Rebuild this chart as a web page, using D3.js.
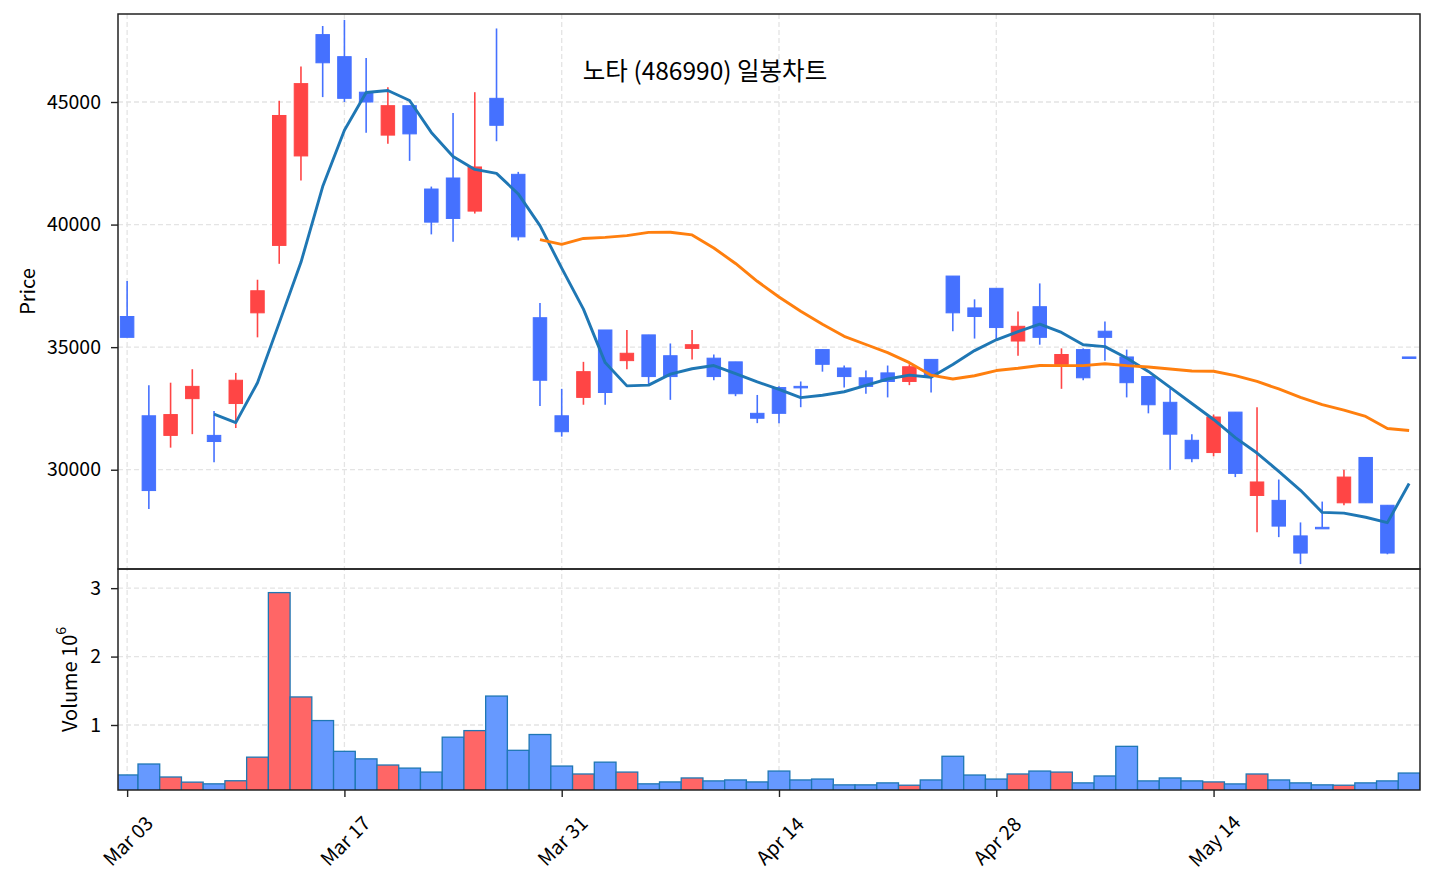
<!DOCTYPE html>
<html>
<head>
<meta charset="utf-8">
<script src="https://cdn.jsdelivr.net/npm/d3@7"></script>
<style>
  body { margin: 0; background: #fff; }
  text { font-family: "Noto Sans CJK KR", "Noto Sans", sans-serif; fill: #000; }
</style>
</head>
<body>
<div id="chart"></div>
<script>
// 일봉 데이터
const dates = [
  "2026-03-03","2026-03-04","2026-03-05","2026-03-06","2026-03-09","2026-03-10","2026-03-11","2026-03-12","2026-03-13","2026-03-16",
  "2026-03-17","2026-03-18","2026-03-19","2026-03-20","2026-03-23","2026-03-24","2026-03-25","2026-03-26","2026-03-27","2026-03-30",
  "2026-03-31","2026-04-01","2026-04-02","2026-04-03","2026-04-06","2026-04-07","2026-04-08","2026-04-09","2026-04-10","2026-04-13",
  "2026-04-14","2026-04-15","2026-04-16","2026-04-17","2026-04-20","2026-04-21","2026-04-22","2026-04-23","2026-04-24","2026-04-27",
  "2026-04-28","2026-04-29","2026-04-30","2026-05-04","2026-05-06","2026-05-07","2026-05-08","2026-05-11","2026-05-12","2026-05-13",
  "2026-05-14","2026-05-15","2026-05-18","2026-05-19","2026-05-20","2026-05-21","2026-05-22","2026-05-26","2026-05-27","2026-05-28"
];
const opens = [
  36250, 32200, 31400, 32900, 31400, 32700, 36400, 39150, 42800, 47750,
  46850, 45400, 43650, 44850, 41450, 41900, 40550, 45150, 42050, 36200,
  32200, 32950, 35700, 34450, 35500, 34650, 34950, 34550, 34400, 32300,
  33350, 33400, 34900, 34150, 33750, 33950, 33600, 34500, 37900, 36600,
  37400, 35250, 36650, 34300, 34900, 35650, 34600, 33800, 32750, 31200,
  30700, 32350, 28950, 28750, 27300, 27650, 28650, 30500, 28550, 34600
];
const highs = [
  37700, 33450, 33550, 34100, 32400, 33950, 37750, 45050, 46450, 48100,
  48350, 46800, 45600, 44850, 41550, 44550, 45400, 48000, 42150, 36800,
  33300, 34400, 35700, 35700, 35500, 35150, 35700, 34700, 34400, 33050,
  33400, 33600, 34900, 34250, 34050, 34250, 34300, 34500, 37900, 36950,
  37400, 36450, 37600, 34950, 34950, 36050, 34900, 33800, 33300, 31450,
  32250, 32350, 32550, 29600, 27850, 28700, 30000, 30500, 28550, 34600
];
const lows = [
  35400, 28400, 30900, 31450, 30300, 31700, 35400, 38400, 41800, 45200,
  45000, 43750, 43300, 42600, 39600, 39300, 40450, 43400, 39350, 32600,
  31350, 32650, 32650, 34100, 33500, 32850, 34500, 33650, 33000, 31900,
  31900, 32550, 34000, 33350, 33100, 32950, 33450, 33150, 35650, 35350,
  35250, 34650, 35100, 33300, 33650, 34450, 32950, 32300, 30000, 30300,
  30550, 29700, 27450, 27250, 26150, 27650, 28550, 28650, 26550, 34600
];
const closes = [
  35400, 29150, 32250, 33400, 31150, 33650, 37300, 44450, 45750, 46600,
  45150, 45000, 44850, 43700, 40100, 40250, 42350, 44050, 39500, 33650,
  31550, 34000, 33150, 34750, 33800, 33800, 35100, 33800, 33100, 32100,
  32300, 33400, 34300, 33800, 33400, 33600, 34200, 33850, 36400, 36250,
  35800, 35850, 35400, 34700, 33750, 35400, 33550, 32650, 31450, 30450,
  32150, 29850, 29500, 27700, 26600, 27650, 29700, 28650, 26600, 34600
];
const volumes = [
  270000, 430000, 240000, 165000, 140000, 185000, 530000, 2935000, 1410000, 1065000,
  615000, 505000, 415000, 370000, 312000, 822000, 918000, 1423000, 630000, 861000,
  400000, 284000, 457000, 312000, 140000, 168000, 226000, 183000, 197000, 168000,
  327000, 197000, 210000, 125000, 125000, 154000, 120000, 197000, 543000, 269000,
  210000, 284000, 327000, 312000, 154000, 255000, 688000, 183000, 226000, 183000,
  168000, 139000, 284000, 197000, 154000, 125000, 120000, 154000, 183000, 298000
];
const priceTicks = [30000, 35000, 40000, 45000];
const volumeTicks = [1e6, 2e6, 3e6];
const maWindows = [5, 20];
const maColors = ["#1f77b4", "#ff7f0e"];
const title = "노타 (486990) 일봉차트";

const parseDate = d3.timeParse("%Y-%m-%d");
const fmtDate = d3.timeFormat("%b %d");
const tickIdx = d3.range(0, dates.length, 10);

const upColor = "#ff4545", downColor = "#4571ff";
const upVol = "#ff6666", downVol = "#6699ff";

const width = 1434, height = 884;
const left = 118, right = 1420;
const pTop = 14, pBottom = 569, vTop = 569, vBottom = 790;

const svg = d3.select("#chart").append("svg")
  .attr("width", width)
  .attr("height", height);

const x = d3.scaleLinear().domain([-0.42, 59.5]).range([left, right]);
const y = d3.scaleLinear().domain([25950, 48590]).range([pBottom, pTop]);
const yv = d3.scaleLinear().domain([0.05e6, 3.28e6]).range([vBottom, vTop]);

const step = x(1) - x(0);

// clip paths
const defs = svg.append("defs");
defs.append("clipPath").attr("id", "clipP").append("rect")
  .attr("x", left).attr("y", pTop).attr("width", right - left).attr("height", pBottom - pTop);
defs.append("clipPath").attr("id", "clipV").append("rect")
  .attr("x", left).attr("y", vTop).attr("width", right - left).attr("height", vBottom - vTop);

// grid
const grid = svg.append("g")
  .attr("stroke", "#e4e4e4")
  .attr("stroke-width", 1.3)
  .attr("stroke-dasharray", "5,3");
grid.selectAll(".vx").data(tickIdx).enter().append("line")
  .attr("x1", d => x(d)).attr("x2", d => x(d))
  .attr("y1", pTop).attr("y2", vBottom);
grid.selectAll(".hp").data(priceTicks).enter().append("line")
  .attr("x1", left).attr("x2", right)
  .attr("y1", d => y(d)).attr("y2", d => y(d));
grid.selectAll(".hv").data(volumeTicks).enter().append("line")
  .attr("x1", left).attr("x2", right)
  .attr("y1", d => yv(d)).attr("y2", d => yv(d));

const isUp = i => closes[i] > opens[i];

// volume bars
svg.append("g").attr("clip-path", "url(#clipV)")
  .selectAll("rect").data(volumes).enter().append("rect")
  .attr("x", (d, i) => x(i - 0.5))
  .attr("width", step)
  .attr("y", d => yv(d))
  .attr("height", d => vBottom + 5 - yv(d))
  .attr("fill", (d, i) => isUp(i) ? upVol : downVol)
  .attr("stroke", "#1f77b4")
  .attr("stroke-width", 1.3);

// candles
const candles = svg.append("g").attr("clip-path", "url(#clipP)")
  .selectAll("g").data(d3.range(dates.length)).enter().append("g");
candles.append("line")
  .attr("x1", i => x(i)).attr("x2", i => x(i))
  .attr("y1", i => y(highs[i])).attr("y2", i => y(lows[i]))
  .attr("stroke", i => isUp(i) ? upColor : downColor)
  .attr("stroke-width", 1.6);
const bodyW = step * 0.62;
candles.append("rect")
  .attr("x", i => x(i) - bodyW / 2)
  .attr("width", bodyW)
  .attr("y", i => y(Math.max(opens[i], closes[i])))
  .attr("height", i => Math.max(1.5, Math.abs(y(opens[i]) - y(closes[i]))))
  .attr("fill", i => isUp(i) ? upColor : downColor)
  .attr("stroke", i => isUp(i) ? upColor : downColor)
  .attr("stroke-width", 1);

// moving averages
function movingAvg(arr, n) {
  return arr.map((v, i) => i < n - 1 ? null : d3.mean(arr.slice(i - n + 1, i + 1)));
}
const maG = svg.append("g").attr("clip-path", "url(#clipP)");
maWindows.forEach((n, k) => {
  const ma = movingAvg(closes, n);
  maG.append("path")
    .datum(ma)
    .attr("fill", "none")
    .attr("stroke", maColors[k])
    .attr("stroke-width", 2.9)
    .attr("stroke-linejoin", "round")
    .attr("d", d3.line()
      .defined(d => d !== null)
      .x((d, i) => x(i))
      .y(d => y(d)));
});

// frames
[[pTop, pBottom], [vTop, vBottom]].forEach(([t, b]) => {
  svg.append("rect")
    .attr("x", left).attr("y", t)
    .attr("width", right - left).attr("height", b - t)
    .attr("fill", "none").attr("stroke", "#222").attr("stroke-width", 1.5);
});

// axes
function styleAxis(g) {
  g.select(".domain").remove();
  g.selectAll(".tick line").attr("stroke", "#222").attr("stroke-width", 1.4);
  g.selectAll(".tick text").attr("font-size", "19.5px").attr("fill", "#000")
    .attr("font-family", "'Noto Sans CJK KR', 'Noto Sans', sans-serif");
}
svg.append("g")
  .attr("transform", "translate(" + left + ",0)")
  .call(d3.axisLeft(y).tickValues(priceTicks).tickSize(7).tickPadding(10).tickFormat(d3.format("d")))
  .call(styleAxis);
svg.append("g")
  .attr("transform", "translate(" + left + ",0)")
  .call(d3.axisLeft(yv).tickValues(volumeTicks).tickSize(7).tickPadding(10).tickFormat(d => d / 1e6))
  .call(styleAxis);

const xAxis = svg.append("g")
  .attr("transform", "translate(0," + vBottom + ")")
  .call(d3.axisBottom(x).tickValues(tickIdx).tickSize(7).tickFormat(""))
  .call(styleAxis);
xAxis.selectAll(".xl").data(tickIdx).enter().append("text")
  .attr("font-size", "19.5px")
  .attr("text-anchor", "middle")
  .attr("dominant-baseline", "central")
  .attr("transform", i => "translate(" + x(i) + ",50) rotate(-45)")
  .text(i => fmtDate(parseDate(dates[i])));

// labels
svg.append("text")
  .attr("font-size", "20px")
  .attr("text-anchor", "middle")
  .attr("dominant-baseline", "central")
  .attr("transform", "translate(26," + (pTop + pBottom) / 2 + ") rotate(-90)")
  .text("Price");
const vl = svg.append("text")
  .attr("font-size", "20px")
  .attr("text-anchor", "middle")
  .attr("dominant-baseline", "central")
  .attr("transform", "translate(68," + (vTop + vBottom) / 2 + ") rotate(-90)");
vl.append("tspan").text("Volume 10");
vl.append("tspan").attr("font-size", "14px").attr("dy", "-8").text("6");

// title
svg.append("text")
  .attr("x", 705).attr("y", 80)
  .attr("text-anchor", "middle")
  .attr("font-size", "24.5px")
  .text(title);
</script>
</body>
</html>
